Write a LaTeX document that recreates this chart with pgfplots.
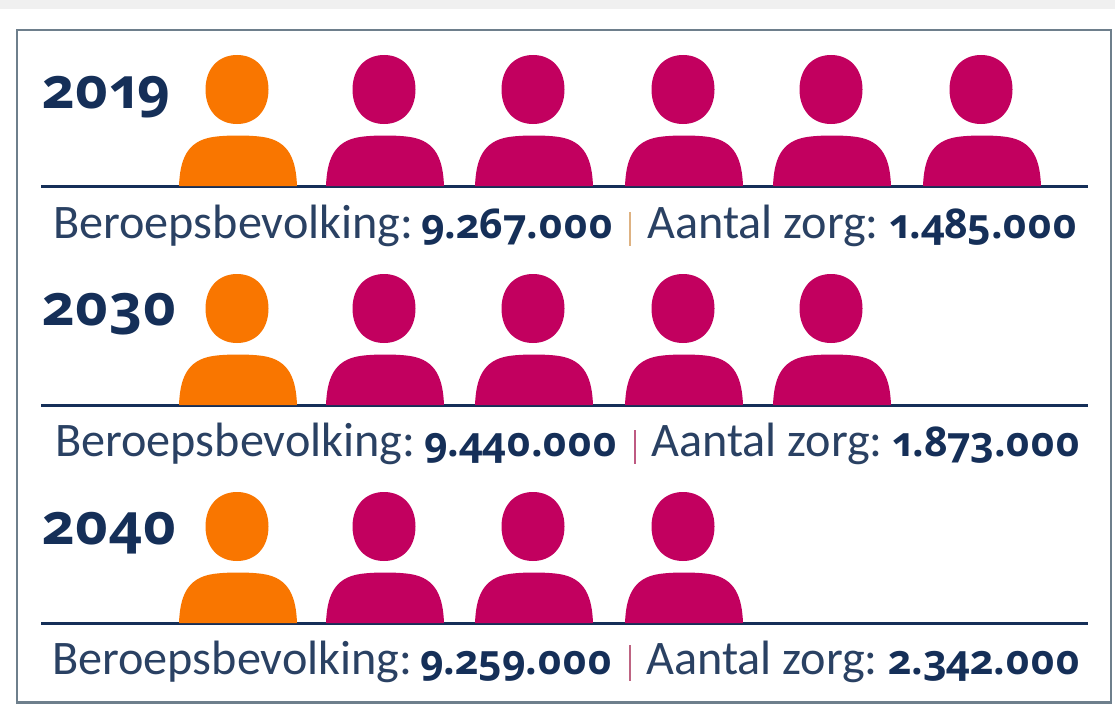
\documentclass[border=0pt]{standalone}
\usepackage{pgfplots}
\pgfplotsset{compat=1.18}
\usepackage{fontspec}
\setmainfont{Carlito}
\newfontfamily\numf[Numbers=OldStyle]{Open Sans}
\definecolor{orangeP}{HTML}{F97600}
\definecolor{magP}{HTML}{C2005F}
\definecolor{navyT}{HTML}{152F58}
\definecolor{txt}{HTML}{2A4163}
\definecolor{frameC}{HTML}{6E7F8C}
\pgfdeclareplotmark{person}{%
  % head
  \pgfpathmoveto{\pgfpoint{30.5pt}{96.5pt}}%
  \pgfpathcurveto{\pgfpoint{30.5pt}{117pt}}{\pgfpoint{18pt}{131pt}}{\pgfpoint{-1pt}{131pt}}%
  \pgfpathcurveto{\pgfpoint{-20pt}{131pt}}{\pgfpoint{-32.5pt}{117pt}}{\pgfpoint{-32.5pt}{96.5pt}}%
  \pgfpathcurveto{\pgfpoint{-32.5pt}{76pt}}{\pgfpoint{-20pt}{62pt}}{\pgfpoint{-1pt}{62pt}}%
  \pgfpathcurveto{\pgfpoint{18pt}{62pt}}{\pgfpoint{30.5pt}{76pt}}{\pgfpoint{30.5pt}{96.5pt}}%
  \pgfpathclose
  % body
  \pgfpathmoveto{\pgfpoint{-59pt}{0pt}}%
  \pgfpathcurveto{\pgfpoint{-58pt}{25pt}}{\pgfpoint{-52pt}{45pt}}{\pgfpoint{-25pt}{49pt}}%
  \pgfpathcurveto{\pgfpoint{-12pt}{51pt}}{\pgfpoint{12pt}{51pt}}{\pgfpoint{25pt}{49pt}}%
  \pgfpathcurveto{\pgfpoint{52pt}{45pt}}{\pgfpoint{58pt}{25pt}}{\pgfpoint{59pt}{0pt}}%
  \pgfpathclose
  \pgfusepathqfill
}
\newcommand{\lbl}[1]{\fontsize{48.2}{50}\selectfont\color{txt}#1}
\newcommand{\val}[1]{\fontsize{41}{44}\selectfont\numf\bfseries\color{navyT}#1}
\newcommand{\yr}[1]{\fontsize{57}{59}\selectfont\numf\bfseries\color{navyT}#1}
\begin{document}
\begin{tikzpicture}
\begin{axis}[
  scale only axis, width=1115pt, height=704pt,
  xmin=0, xmax=1115, ymin=0, ymax=704, y dir=reverse,
  hide axis, clip=false]
% background band and frame
\addplot[draw=none, fill=black!6, forget plot] coordinates {(0,0) (1115,0) (1115,9) (0,9)} -- cycle;
\addplot[draw=frameC, line width=2.4pt, fill=white, forget plot] coordinates {(17,30) (1111,30) (1111,702.5) (17,702.5)} -- cycle;
% people
\addplot[only marks, mark=person, color=orangeP, mark options={fill=orangeP, draw=none}]
  coordinates {(238,186) (238,405) (238,623)};
\addplot[only marks, mark=person, color=magP, mark options={fill=magP, draw=none}]
  coordinates {(385,186) (534,186) (684,186) (832,186) (982,186)
               (385,405) (534,405) (684,405) (832,405)
               (385,623) (534,623) (684,623)};
% baselines
\addplot[navyT, line width=3pt] coordinates {(41,186) (1088,186)};
\addplot[navyT, line width=3pt] coordinates {(41,405) (1088,405)};
\addplot[navyT, line width=3pt] coordinates {(41,623) (1088,623)};
% separators
\addplot[color={rgb,255:red,222;green,178;blue,130}, line width=2.8pt] coordinates {(630,212) (630,246)};
\addplot[color={rgb,255:red,190;green,90;blue,130}, line width=2.8pt] coordinates {(635,430) (635,464)};
\addplot[color={rgb,255:red,190;green,100;blue,130}, line width=2.8pt] coordinates {(630,645) (630,681)};
% years
\node[anchor=base west, inner sep=0pt] at (axis cs:42,108) {\yr{2019}};
\node[anchor=base west, inner sep=0pt] at (axis cs:42,325) {\yr{2030}};
\node[anchor=base west, inner sep=0pt] at (axis cs:42,544) {\yr{2040}};
% captions
\node[anchor=base west, inner sep=0pt] at (axis cs:53,238.5) {\lbl{Beroepsbevolking:}};
\node[anchor=base west, inner sep=0pt] at (axis cs:421,238) {\val{9.267.000}};
\node[anchor=base west, inner sep=0pt] at (axis cs:647,238.5) {\lbl{Aantal zorg:}};
\node[anchor=base west, inner sep=0pt] at (axis cs:889,238) {\val{1.485.000}};
\node[anchor=base west, inner sep=0pt] at (axis cs:55,456.5) {\lbl{Beroepsbevolking:}};
\node[anchor=base west, inner sep=0pt] at (axis cs:424,456) {\val{9.440.000}};
\node[anchor=base west, inner sep=0pt] at (axis cs:651,456.5) {\lbl{Aantal zorg:}};
\node[anchor=base west, inner sep=0pt] at (axis cs:892,456) {\val{1.873.000}};
\node[anchor=base west, inner sep=0pt] at (axis cs:52,674.5) {\lbl{Beroepsbevolking:}};
\node[anchor=base west, inner sep=0pt] at (axis cs:420,674) {\val{9.259.000}};
\node[anchor=base west, inner sep=0pt] at (axis cs:646,674.5) {\lbl{Aantal zorg:}};
\node[anchor=base west, inner sep=0pt] at (axis cs:888,674) {\val{2.342.000}};
\end{axis}
\end{tikzpicture}
\end{document}
